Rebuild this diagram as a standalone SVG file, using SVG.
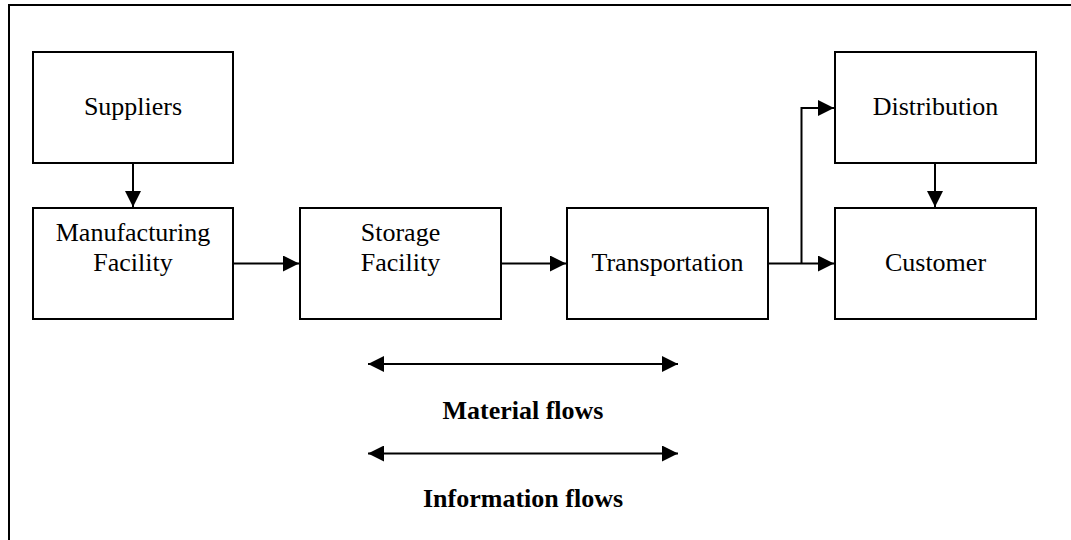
<svg xmlns="http://www.w3.org/2000/svg" width="1071" height="540" viewBox="0 0 1071 540">
  <style>
    .box { fill: #ffffff; stroke: #000000; stroke-width: 2; }
    .lbl { font-family: "Liberation Serif", "Times New Roman", serif; font-size: 26px; fill: #000000; text-anchor: middle; }
    .key { font-family: "Liberation Serif", "Times New Roman", serif; font-size: 26px; font-weight: bold; fill: #000000; text-anchor: middle; }
    .wire { fill: none; stroke: #000000; stroke-width: 2; }
  </style>
  <defs>
    <marker id="head" markerUnits="userSpaceOnUse" markerWidth="16" markerHeight="16" viewBox="0 0 15 15" refX="15" refY="7.5" orient="auto-start-reverse">
      <path d="M0,0 L15,7.5 L0,15 Z" fill="#000000"/>
    </marker>
  </defs>
  <rect width="1071" height="540" fill="#ffffff"/>

  <!-- page frame -->
  <path d="M9,540 L9,5 L1071,5" class="wire"/>

  <g id="suppliers">
    <rect class="box" x="33" y="52" width="200" height="111"/>
    <text class="lbl" x="133" y="115">Suppliers</text>
  </g>
  <g id="manufacturing">
    <rect class="box" x="33" y="208" width="200" height="111"/>
    <text class="lbl" x="133" y="241">Manufacturing</text>
    <text class="lbl" x="133" y="271">Facility</text>
  </g>
  <g id="storage">
    <rect class="box" x="300" y="208" width="201" height="111"/>
    <text class="lbl" x="400.5" y="241">Storage</text>
    <text class="lbl" x="400.5" y="271">Facility</text>
  </g>
  <g id="transportation">
    <rect class="box" x="567" y="208" width="201" height="111"/>
    <text class="lbl" x="667.5" y="271">Transportation</text>
  </g>
  <g id="distribution">
    <rect class="box" x="835" y="52" width="201" height="111"/>
    <text class="lbl" x="935.5" y="115">Distribution</text>
  </g>
  <g id="customer">
    <rect class="box" x="835" y="208" width="201" height="111"/>
    <text class="lbl" x="935.5" y="271">Customer</text>
  </g>

  <g id="connectors">
    <path class="wire" d="M133,163 L133,207" marker-end="url(#head)"/>
    <path class="wire" d="M233,263.5 L299,263.5" marker-end="url(#head)"/>
    <path class="wire" d="M501,263.5 L566,263.5" marker-end="url(#head)"/>
    <path class="wire" d="M768,263.5 L834,263.5" marker-end="url(#head)"/>
    <path class="wire" d="M801.5,263.5 L801.5,108 L834,108" marker-end="url(#head)"/>
    <path class="wire" d="M935,163 L935,207" marker-end="url(#head)"/>
  </g>

  <g id="legend">
    <path class="wire" d="M368,364 L678,364" marker-start="url(#head)" marker-end="url(#head)"/>
    <text class="key" x="523" y="419">Material flows</text>
    <path class="wire" d="M368,453.5 L678,453.5" marker-start="url(#head)" marker-end="url(#head)"/>
    <text class="key" x="523" y="507">Information flows</text>
  </g>
</svg>
